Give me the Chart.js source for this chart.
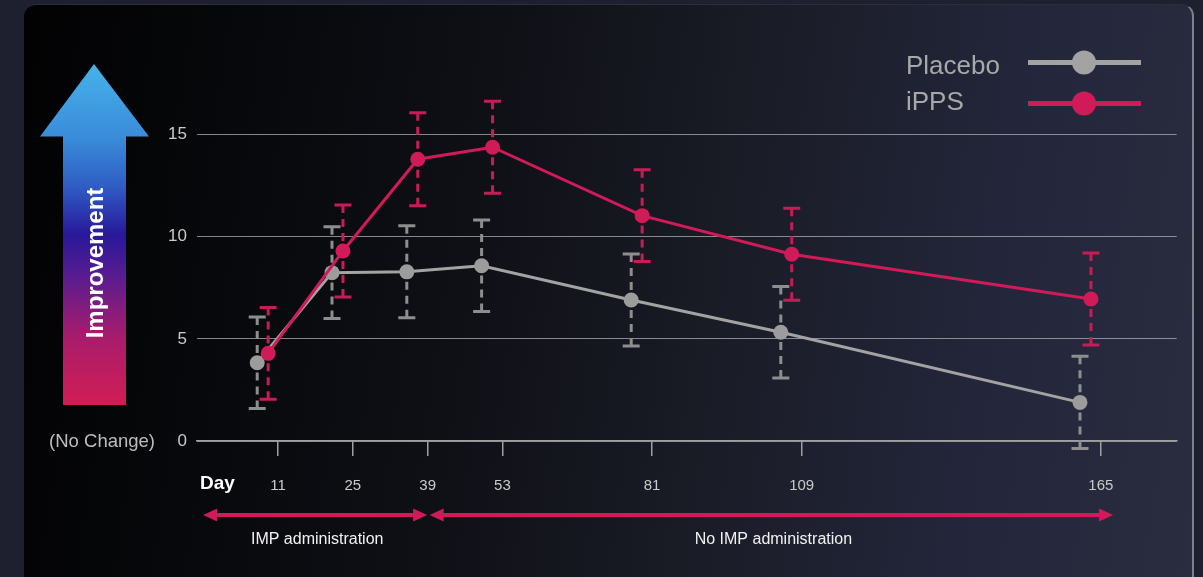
<!DOCTYPE html>
<html>
<head>
<meta charset="utf-8">
<script src="https://cdn.jsdelivr.net/npm/chart.js@4/dist/chart.umd.min.js"></script>
<style>
  html, body { margin: 0; padding: 0; }
  body { width: 1203px; height: 577px; background: #1e2030; position: relative; overflow: hidden; }
  #card {
    position: absolute; left: 24px; top: 4px; width: 1168px; height: 600px;
    border-radius: 12px;
    background: linear-gradient(98deg, #020203 0%, #07080b 18%, #0f1016 38%, #191b25 58%, #23263a 80%, #2a2d40 100%);
    border-right: 2px solid #7c8094;
    border-top: 1px solid #2c2e38;
    box-sizing: content-box;
  }
  #wrap { position: absolute; left: 0; top: 0; width: 1203px; height: 577px; }
</style>
</head>
<body>
<div id="card"></div>
<div id="wrap"><canvas id="chart" width="1203" height="577"></canvas></div>
<script>
// Study visits (days) and mean improvement with standard error per arm
const visitDays = [11, 25, 39, 53, 81, 109, 165];
const placeboMean = [3.83, 8.24, 8.28, 8.58, 6.90, 5.32, 1.89];
const placeboSE = [2.24, 2.25, 2.25, 2.24, 2.25, 2.24, 2.26];
const ippsMean = [4.29, 9.30, 13.79, 14.38, 11.03, 9.14, 6.95];
const ippsSE = [2.25, 2.25, 2.27, 2.25, 2.25, 2.25, 2.25];
const yTickValues = [0, 5, 10, 15];
const seriesNames = ['Placebo', 'iPPS'];
// Treatment phases along the day axis
const phaseLabels = ['IMP administration', 'No IMP administration'];
const phaseStart = [-3, 39];
const phaseEnd = [39, 167.3];

const FONT = "'Liberation Sans', Arial, sans-serif";
const GREY = '#a3a3a3';
const CRIMSON = '#d01b58';
const DODGE = { placebo: -3.9, ipps: -1.85 }; // small horizontal offset so the arms do not overlap

const errorBars = {
  id: 'errorBars',
  beforeDatasetsDraw(chart) {
    const ctx = chart.ctx;
    const y = chart.scales.y;
    const order = [1, 0];
    order.forEach(di => {
      const ds = chart.data.datasets[di];
      const meta = chart.getDatasetMeta(di);
      ctx.save();
      ctx.strokeStyle = ds.errorColor;
      ctx.lineWidth = 3;
      meta.data.forEach((pt, i) => {
        const m = ds.means[i], e = ds.errors[i];
        const x = pt.x;
        const yt = y.getPixelForValue(m + e);
        const yb = y.getPixelForValue(m - e);
        const ym = pt.y;
        ctx.setLineDash([8, 6]);
        ctx.beginPath(); ctx.moveTo(x, yt); ctx.lineTo(x, ym); ctx.stroke();
        ctx.beginPath(); ctx.moveTo(x, yb); ctx.lineTo(x, ym); ctx.stroke();
        ctx.setLineDash([]);
        ctx.beginPath();
        ctx.moveTo(x - 8.5, yt); ctx.lineTo(x + 8.5, yt);
        ctx.moveTo(x - 8.5, yb); ctx.lineTo(x + 8.5, yb);
        ctx.stroke();
      });
      ctx.restore();
    });
  }
};

const decorations = {
  id: 'decorations',
  beforeDatasetsDraw(chart) {
    const ctx = chart.ctx;
    const xs = chart.scales.x, ys = chart.scales.y;
    ctx.save();
    // Improvement arrow
    const g = ctx.createLinearGradient(0, 64, 0, 405);
    g.addColorStop(0, '#46b2ea');
    g.addColorStop(0.22, '#3a8bd9');
    g.addColorStop(0.36, '#2f5cc4');
    g.addColorStop(0.5, '#28189a');
    g.addColorStop(0.63, '#5c1c8f');
    g.addColorStop(0.8, '#a81c6b');
    g.addColorStop(1, '#d21d55');
    ctx.fillStyle = g;
    ctx.beginPath();
    ctx.moveTo(94, 64);
    ctx.lineTo(149, 136.5);
    ctx.lineTo(126, 136.5);
    ctx.lineTo(126, 405);
    ctx.lineTo(63, 405);
    ctx.lineTo(63, 136.5);
    ctx.lineTo(40, 136.5);
    ctx.closePath();
    ctx.fill();
    ctx.save();
    ctx.translate(96, 263);
    ctx.rotate(-Math.PI / 2);
    ctx.fillStyle = '#ffffff';
    ctx.font = 'bold 24px ' + FONT;
    ctx.textAlign = 'center';
    ctx.textBaseline = 'middle';
    ctx.fillText('Improvement', 0, 0);
    ctx.restore();

    // Zero label
    ctx.fillStyle = '#bdbdbd';
    ctx.font = '18.5px ' + FONT;
    ctx.textAlign = 'right';
    ctx.textBaseline = 'middle';
    ctx.fillText('(No Change)', 155, ys.getPixelForValue(0) + 1);

    // Axis title
    ctx.fillStyle = '#ffffff';
    ctx.font = 'bold 19px ' + FONT;
    ctx.textAlign = 'left';
    ctx.fillText('Day', 200, 484);

    // Phase arrows
    const ay = 515;
    ctx.strokeStyle = CRIMSON;
    ctx.fillStyle = CRIMSON;
    ctx.lineWidth = 4;
    phaseLabels.forEach((lab, i) => {
      const x0 = xs.getPixelForValue(phaseStart[i]) + (i === 1 ? 2 : 0);
      const x1 = xs.getPixelForValue(phaseEnd[i]) - (i === 0 ? 0.5 : 0);
      ctx.beginPath(); ctx.moveTo(x0 + 10, ay); ctx.lineTo(x1 - 10, ay); ctx.stroke();
      ctx.beginPath(); ctx.moveTo(x0, ay); ctx.lineTo(x0 + 14, ay - 6.5); ctx.lineTo(x0 + 14, ay + 6.5); ctx.closePath(); ctx.fill();
      ctx.beginPath(); ctx.moveTo(x1, ay); ctx.lineTo(x1 - 14, ay - 6.5); ctx.lineTo(x1 - 14, ay + 6.5); ctx.closePath(); ctx.fill();
      ctx.save();
      ctx.fillStyle = '#f2f2f2';
      ctx.font = '16px ' + FONT;
      ctx.textAlign = 'center';
      ctx.textBaseline = 'middle';
      ctx.fillText(lab, (x0 + x1) / 2 + 2, 540);
      ctx.restore();
    });
    ctx.restore();
  },
  afterDraw(chart) {
    // Legend
    const ctx = chart.ctx;
    ctx.save();
    const rows = [
      { name: seriesNames[0], color: chart.data.datasets[1].borderColor, ty: 74, ly: 62.5 },
      { name: seriesNames[1], color: chart.data.datasets[0].borderColor, ty: 110, ly: 103.5 }
    ];
    rows.forEach(r => {
      ctx.fillStyle = '#a8a8a8';
      ctx.font = '26px ' + FONT;
      ctx.textAlign = 'left';
      ctx.textBaseline = 'alphabetic';
      ctx.fillText(r.name, 906, r.ty);
      ctx.strokeStyle = r.color;
      ctx.lineWidth = 5;
      ctx.beginPath(); ctx.moveTo(1028, r.ly); ctx.lineTo(1141, r.ly); ctx.stroke();
      ctx.fillStyle = r.color;
      ctx.beginPath(); ctx.arc(1084, r.ly, 12, 0, Math.PI * 2); ctx.fill();
    });
    ctx.restore();
  }
};

new Chart(document.getElementById('chart'), {
  type: 'line',
  data: {
    datasets: [
      {
        label: seriesNames[1],
        data: visitDays.map((d, i) => ({ x: d + DODGE.ipps, y: ippsMean[i] })),
        means: ippsMean, errors: ippsSE,
        borderColor: CRIMSON, backgroundColor: CRIMSON, errorColor: '#c91b56',
        borderWidth: 3, pointRadius: 7.5, pointBorderWidth: 0, tension: 0, clip: false
      },
      {
        label: seriesNames[0],
        data: visitDays.map((d, i) => ({ x: d + DODGE.placebo, y: placeboMean[i] })),
        means: placeboMean, errors: placeboSE,
        borderColor: GREY, backgroundColor: '#9c9c9c', errorColor: '#8e8e8e',
        borderWidth: 3, pointRadius: 7.5, pointBorderWidth: 0, tension: 0, clip: false
      }
    ]
  },
  options: {
    responsive: false,
    animation: false,
    events: [],
    layout: { padding: { top: 52.8, right: 26.3, bottom: 0, left: 0 } },
    plugins: { legend: { display: false }, tooltip: { enabled: false } },
    scales: {
      x: {
        type: 'linear',
        min: -4.17,
        max: 179.2,
        afterBuildTicks: s => { s.ticks = visitDays.map(v => ({ value: v })); },
        afterFit: s => { s.height = 136; },
        ticks: { color: '#cacaca', font: { family: FONT, size: 15 }, padding: 21, maxRotation: 0, autoSkip: false },
        grid: { drawOnChartArea: false, drawTicks: true, tickLength: 15, color: '#a0a0a0', lineWidth: 1.5 },
        border: { display: true, color: '#a0a0a0', width: 1.5 }
      },
      y: {
        min: 0,
        max: 19,
        afterBuildTicks: s => { s.ticks = yTickValues.map(v => ({ value: v })); },
        afterFit: s => { s.width = 197; },
        ticks: { color: '#cacaca', font: { family: FONT, size: 17 }, padding: 10 },
        grid: { color: 'rgba(175,175,180,0.75)', drawTicks: false, lineWidth: 1 },
        border: { display: false }
      }
    }
  },
  plugins: [errorBars, decorations]
});
</script>
</body>
</html>
